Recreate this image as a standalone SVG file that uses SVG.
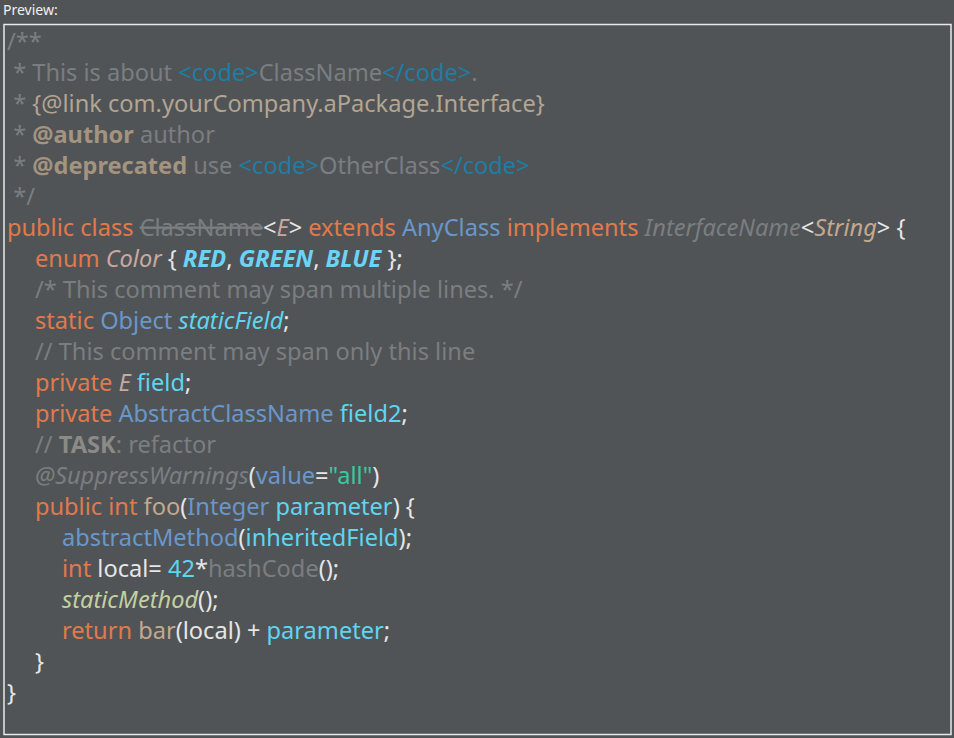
<svg xmlns="http://www.w3.org/2000/svg" width="954" height="738" viewBox="0 0 954 738">
<style>
text{font-family:"Noto Sans","Open Sans",sans-serif;font-size:23.6px;white-space:pre}
.c{fill:#7b7e80}.t{fill:#1d7ea3}.d{fill:#a3937f;font-weight:bold}.l{fill:#b3a592}
.k{fill:#e07a4c}.b{fill:#6a97c9}.f{fill:#5fd5ee}.e{fill:#6dd3f5;font-weight:bold;font-style:italic}
.w{fill:#e6e6e6}.i{font-style:italic}.g{fill:#c8a8a0}.s{fill:#3ac99c}.m{fill:#c5a88e}.sm{fill:#c3d0a2;font-style:italic}
</style>
<rect width="954" height="738" fill="#505457"/>
<text x="3" y="15" style="font-size:14px;fill:#f0f0f0">Preview:</text>
<rect x="4" y="24.5" width="947" height="710" fill="none" stroke="#e8e8e8" stroke-width="1.5"/>
<g id="code">
<text x="7" y="50" class="c">/**</text>
<text x="7" y="81"><tspan class="c"> * This is about </tspan><tspan class="t">&lt;code&gt;</tspan><tspan class="c">ClassName</tspan><tspan class="t">&lt;/code&gt;</tspan><tspan class="c">.</tspan></text>
<text x="7" y="112"><tspan class="c"> * </tspan><tspan class="l">{@link com.yourCompany.aPackage.Interface}</tspan></text>
<text x="7" y="143"><tspan class="c"> * </tspan><tspan class="d">@author</tspan><tspan class="c"> author</tspan></text>
<text x="7" y="174"><tspan class="c"> * </tspan><tspan class="d">@deprecated</tspan><tspan class="c"> use </tspan><tspan class="t">&lt;code&gt;</tspan><tspan class="c">OtherClass</tspan><tspan class="t">&lt;/code&gt;</tspan></text>
<text x="7" y="205" class="c"> */</text>
<text x="7" y="236"><tspan class="k">public class </tspan><tspan class="c" text-decoration="line-through">ClassName</tspan><tspan class="w">&lt;</tspan><tspan class="g i">E</tspan><tspan class="w">&gt; </tspan><tspan class="k">extends </tspan><tspan class="b">AnyClass </tspan><tspan class="k">implements </tspan><tspan class="c i">InterfaceName</tspan><tspan class="w">&lt;</tspan><tspan class="m i">String</tspan><tspan class="w">&gt; {</tspan></text>
<text x="35" y="267"><tspan class="k">enum </tspan><tspan class="g i">Color</tspan><tspan class="w"> { </tspan><tspan class="e">RED</tspan><tspan class="w">, </tspan><tspan class="e">GREEN</tspan><tspan class="w">, </tspan><tspan class="e">BLUE</tspan><tspan class="w"> };</tspan></text>
<text x="35" y="298" class="c">/* This comment may span multiple lines. */</text>
<text x="35" y="329"><tspan class="k">static </tspan><tspan class="b">Object </tspan><tspan class="f i">staticField</tspan><tspan class="w">;</tspan></text>
<text x="35" y="360" class="c">// This comment may span only this line</text>
<text x="35" y="391"><tspan class="k">private </tspan><tspan class="g i">E </tspan><tspan class="f">field</tspan><tspan class="w">;</tspan></text>
<text x="35" y="422"><tspan class="k">private </tspan><tspan class="b">AbstractClassName </tspan><tspan class="f">field2</tspan><tspan class="w">;</tspan></text>
<text x="35" y="453"><tspan class="c">// </tspan><tspan class="d" style="fill:#8c8a86">TASK</tspan><tspan class="c">: refactor</tspan></text>
<text x="35" y="484"><tspan class="c i">@SuppressWarnings</tspan><tspan class="w">(</tspan><tspan class="b">value</tspan><tspan class="w">=</tspan><tspan class="s">"all"</tspan><tspan class="w">)</tspan></text>
<text x="35" y="515"><tspan class="k">public int </tspan><tspan class="m">foo</tspan><tspan class="w">(</tspan><tspan class="b">Integer </tspan><tspan class="f">parameter</tspan><tspan class="w">) {</tspan></text>
<text x="62" y="546"><tspan class="b">abstractMethod</tspan><tspan class="w">(</tspan><tspan class="f">inheritedField</tspan><tspan class="w">);</tspan></text>
<text x="62" y="577"><tspan class="k">int </tspan><tspan class="w">local= </tspan><tspan class="f">42</tspan><tspan class="w">*</tspan><tspan class="c">hashCode</tspan><tspan class="w">();</tspan></text>
<text x="62" y="608"><tspan class="sm">staticMethod</tspan><tspan class="w">();</tspan></text>
<text x="62" y="639"><tspan class="k">return </tspan><tspan class="m">bar</tspan><tspan class="w">(local) + </tspan><tspan class="f">parameter</tspan><tspan class="w">;</tspan></text>
<text x="35" y="670" class="w">}</text>
<text x="7" y="701" class="w">}</text>
</g>
</svg>
